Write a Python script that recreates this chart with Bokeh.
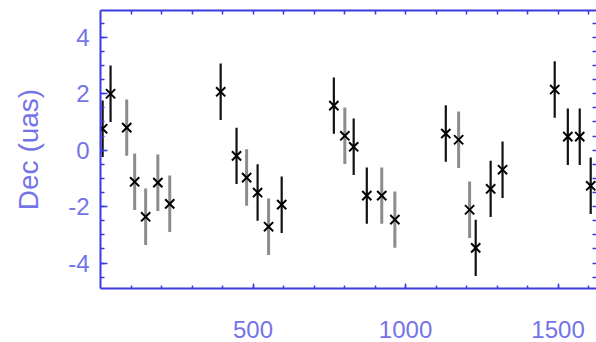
from bokeh.plotting import figure
from bokeh.models import LinearAxis, FixedTicker, Range1d, ColumnDataSource
from bokeh.embed import file_html
from bokeh.resources import INLINE

# epoch (days) and Dec offset (micro-arcsec) with 1-sigma errors
day = [7, 33, 86, 112, 148, 188, 227, 394, 446, 479, 515, 551, 594,
       765, 801, 830, 873, 922, 965, 1132, 1174, 1210, 1230, 1279, 1318,
       1489, 1532, 1571, 1607]
dec = [0.76, 2.0, 0.8, -1.12, -2.36, -1.15, -1.9, 2.07, -0.2, -0.97, -1.5,
       -2.71, -1.93, 1.58, 0.51, 0.12, -1.61, -1.61, -2.46, 0.59, 0.37,
       -2.11, -3.46, -1.37, -0.69, 2.15, 0.48, 0.48, -1.26]
err = [1.0, 1.0, 1.0, 1.0, 1.0, 1.0, 1.0, 1.0, 1.0, 1.0, 1.0, 1.0, 1.0,
       1.0, 1.0, 1.0, 1.0, 1.0, 1.0, 1.0, 1.0, 1.0, 1.0, 1.0, 1.0,
       1.0, 1.0, 1.0, 1.0]
group = ["k", "k", "g", "g", "g", "g", "g", "k", "k", "g", "k", "g", "k",
         "k", "g", "k", "k", "g", "g", "k", "g", "g", "k", "k", "k",
         "k", "k", "k", "k"]

x_ticks = [500, 1000, 1500]
x_minor = [100, 200, 300, 400, 500, 600, 700, 800, 900, 1000, 1100, 1200,
           1300, 1400, 1500, 1600]
y_ticks = [-4, -2, 0, 2, 4]
y_minor = [-4.5, -4, -3.5, -3, -2.5, -2, -1.5, -1, -0.5, 0, 0.5, 1, 1.5,
           2, 2.5, 3, 3.5, 4, 4.5]
y_label = "Dec (uas)"

AXIS = "#3b3bdf"
LABEL = "#7474e8"
FONT = "Liberation Sans"

def subset(code):
    idx = [i for i, g in enumerate(group) if g == code]
    return ColumnDataSource(dict(
        x=[day[i] for i in idx],
        y=[dec[i] for i in idx],
        lo=[dec[i] - err[i] for i in idx],
        hi=[dec[i] + err[i] for i in idx],
    ))

p = figure(width=596, height=342, output_backend="svg", toolbar_location=None,
           x_range=Range1d(0, 1626), y_range=Range1d(-4.9, 4.95),
           x_axis_location=None, y_axis_location=None,
           min_border_left=100, min_border_right=0, min_border_top=10,
           min_border_bottom=54)
p.outline_line_color = None
p.xgrid.visible = False
p.ygrid.visible = False
p.background_fill_color = "white"
p.border_fill_color = "white"

gsrc = subset("g")
ksrc = subset("k")
p.segment(x0="x", y0="lo", x1="x", y1="hi", source=gsrc,
          line_color="#8c8c8c", line_width=3)
p.segment(x0="x", y0="lo", x1="x", y1="hi", source=ksrc,
          line_color="#111111", line_width=2.2)
allsrc = ColumnDataSource(dict(x=day, y=dec))
p.scatter(x="x", y="y", source=allsrc, marker="x", size=13,
          line_color="black", line_width=2)

def style(ax, major_in, minor_in):
    ax.axis_line_color = AXIS
    ax.axis_line_width = 2
    ax.major_tick_line_color = AXIS
    ax.minor_tick_line_color = AXIS
    ax.major_tick_line_width = 1.5
    ax.minor_tick_line_width = 1.5
    ax.major_tick_in = major_in
    ax.major_tick_out = 0
    ax.minor_tick_in = minor_in
    ax.minor_tick_out = 0
    ax.major_label_text_color = LABEL
    ax.major_label_text_font = FONT
    ax.major_label_text_font_size = "24px"

xt = FixedTicker(ticks=x_ticks, minor_ticks=x_minor)
yt = FixedTicker(ticks=y_ticks, minor_ticks=y_minor)

bottom = LinearAxis(ticker=xt)
style(bottom, 5, 3)
bottom.major_label_standoff = 32
p.add_layout(bottom, "below")

# top and right frame edges: tick marks only, no labels
top = LinearAxis(ticker=FixedTicker(ticks=[], minor_ticks=x_minor))
style(top, 5, 4)
p.add_layout(top, "above")

left = LinearAxis(ticker=yt, axis_label=y_label)
style(left, 7, 4)
left.major_label_standoff = 11
left.major_label_overrides = {t: str(t) for t in y_ticks}
left.axis_label_text_color = LABEL
left.axis_label_text_font = FONT
left.axis_label_text_font_size = "28px"
left.axis_label_text_font_style = "normal"
left.axis_label_standoff = 21
p.add_layout(left, "left")

right = LinearAxis(ticker=FixedTicker(ticks=[], minor_ticks=y_minor))
style(right, 7, 4)
right.axis_line_color = None
p.add_layout(right, "right")

open("out.html", "w").write(file_html(p, INLINE))
